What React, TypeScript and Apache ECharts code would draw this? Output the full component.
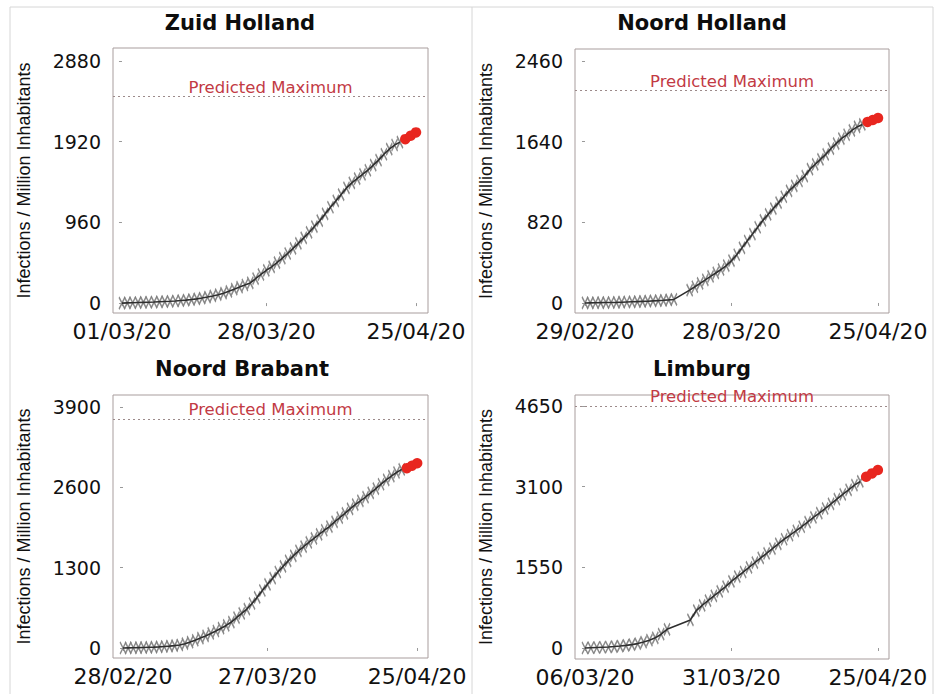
import React, { useEffect, useRef } from "react";
import * as echarts from "echarts";

// ---------- DATA ----------
const regionNames = ["Zuid Holland", "Noord Holland", "Noord Brabant", "Limburg"];

const zhTicks = ["01/03/20", "28/03/20", "25/04/20"];
const nhTicks = ["29/02/20", "28/03/20", "25/04/20"];
const nbTicks = ["28/02/20", "27/03/20", "25/04/20"];
const liTicks = ["06/03/20", "31/03/20", "25/04/20"];

const zhYTicks = [0, 960, 1920, 2880];
const nhYTicks = [0, 820, 1640, 2460];
const nbYTicks = [0, 1300, 2600, 3900];
const liYTicks = [0, 1550, 3100, 4650];

const zhPredictedMax = 2455;
const nhPredictedMax = 2158;
const nbPredictedMax = 3705;
const liPredictedMax = 4645;

// daily observed infections / million, day 0 = first tick date (null = no report)
const zhObserved = [0, 2, 4, 6, 8, 10, 12, 15, 18, 21, 25, 30, 35, 42, 50, 60, 72, 85, 100, 118, 140, 165, 190, 215, 240, 290, 340, 390, 430, 480, 535, 590, 650, 710, 775, 840, 910, 980, 1060, 1140, 1215, 1290, 1370, 1430, 1480, 1530, 1580, 1640, 1700, 1770, 1830, 1880, 1915];
const nhObserved = [0, 1, 2, 3, 4, 5, 6, 8, 10, 12, 14, 16, 18, 21, 24, 27, 31, 36, null, null, 130, 165, 200, 235, 270, 305, 340, 380, 430, 490, 560, 630, 700, 770, 840, 900, 960, 1020, 1080, 1140, 1190, 1240, 1290, 1360, 1410, 1460, 1510, 1570, 1620, 1670, 1710, 1755, 1790, 1815];
const nbObserved = [0, 2, 4, 6, 8, 11, 14, 18, 24, 30, 38, 48, 70, 95, 125, 160, 195, 235, 275, 320, 365, 420, 490, 560, 630, 720, 820, 930, 1030, 1130, 1230, 1320, 1410, 1490, 1570, 1640, 1710, 1775, 1840, 1905, 1965, 2040, 2110, 2180, 2250, 2320, 2380, 2440, 2510, 2580, 2650, 2720, 2780, 2840, 2890];
const liObserved = [0, 5, 10, 15, 20, 28, 38, 50, 65, 85, 115, 150, 195, 265, 360, null, null, null, 540, 720, 820, 910, 1000, 1090, 1180, 1280, 1370, 1460, 1550, 1640, 1730, 1820, 1910, 2000, 2090, 2170, 2250, 2330, 2420, 2510, 2590, 2680, 2770, 2860, 2950, 3040, 3130, 3200];

// predicted values for the last days (ending at the last tick date)
const zhPredicted = [1950, 1990, 2030];
const nhPredicted = [1840, 1860, 1880];
const nbPredicted = [2910, 2950, 2990];
const liPredicted = [3290, 3355, 3420];

// ---------- LAYOUT ----------
const layouts = [
  { left: 113, top: 48, width: 315, height: 265, xPad: [-1.68, 2.25], yRange: [-118, 3034], titleX: 240, titleY: 22.5 },
  { left: 575, top: 49, width: 314, height: 264, xPad: [-1.91, 2.1], yRange: [-102, 2582], titleX: 702, titleY: 22.5 },
  { left: 113, top: 395, width: 315, height: 263, xPad: [-1.94, 2.1], yRange: [-162, 4094], titleX: 242, titleY: 368.5 },
  { left: 575, top: 395, width: 314, height: 264, xPad: [-1.71, 1.9], yRange: [-211, 4861], titleX: 702, titleY: 368.5 },
];

function parseDate(s: string): number {
  const [d, m, y] = s.split("/").map(Number);
  return Date.UTC(2000 + y, m - 1, d);
}
function dayOffsets(ticks: string[]): number[] {
  const t0 = parseDate(ticks[0]);
  return ticks.map((t) => Math.round((parseDate(t) - t0) / 86400000));
}

const FONT = "DejaVu Sans";
const CROSS = "path://M0,0L6,12M6,0L0,12";

export default function App() {
  const ref = useRef<HTMLDivElement>(null);
  useEffect(() => {
    document.body.style.margin = "0";
    if (!ref.current) return;
    const chart = echarts.init(ref.current, null, { renderer: "svg" });

    const regions = [
      { ticks: zhTicks, yTicks: zhYTicks, max: zhPredictedMax, obs: zhObserved, pred: zhPredicted },
      { ticks: nhTicks, yTicks: nhYTicks, max: nhPredictedMax, obs: nhObserved, pred: nhPredicted },
      { ticks: nbTicks, yTicks: nbYTicks, max: nbPredictedMax, obs: nbObserved, pred: nbPredicted },
      { ticks: liTicks, yTicks: liYTicks, max: liPredictedMax, obs: liObserved, pred: liPredicted },
    ];

    const grids: any[] = [];
    const xAxes: any[] = [];
    const yAxes: any[] = [];
    const series: any[] = [];
    const graphics: any[] = [];

    regions.forEach((r, i) => {
      const L = layouts[i];
      const tickDays = dayOffsets(r.ticks);
      const lastDay = tickDays[tickDays.length - 1];
      grids.push({
        left: L.left, top: L.top, width: L.width, height: L.height,
        show: true, borderColor: "#a89d9d", borderWidth: 1, backgroundColor: "transparent",
      });
      xAxes.push({
        type: "value", gridIndex: i,
        min: L.xPad[0], max: lastDay + L.xPad[1],
        axisLine: { show: false },
        splitLine: { show: false },
        axisTick: { show: true, customValues: tickDays, length: 3, lineStyle: { color: "#999" } },
        axisLabel: {
          customValues: tickDays,
          formatter: (v: number) => r.ticks[tickDays.indexOf(Math.round(v))] ?? "",
          fontFamily: FONT, fontSize: 22, color: "#111", margin: 7,
        },
      });
      yAxes.push({
        type: "value", gridIndex: i,
        min: L.yRange[0], max: L.yRange[1],
        name: "Infections / Million Inhabitants",
        nameLocation: "middle", nameGap: 80,
        nameTextStyle: { fontFamily: "Liberation Sans", fontSize: 18, color: "#111" },
        axisLine: { show: false },
        splitLine: { show: false },
        axisTick: { show: true, customValues: r.yTicks, length: 3, lineStyle: { color: "#999" } },
        axisLabel: {
          customValues: r.yTicks,
          formatter: (v: number) => String(Math.round(v)),
          fontFamily: FONT, fontSize: 19, color: "#111", margin: 12,
        },
      });

      const obsPts: number[][] = [];
      r.obs.forEach((v, d) => { if (v != null) obsPts.push([d, v as number]); });
      const predStart = lastDay - r.pred.length + 1;
      const predPts = r.pred.map((v, k) => [predStart + k, v]);

      series.push({
        type: "scatter", xAxisIndex: i, yAxisIndex: i,
        data: obsPts, symbol: CROSS, symbolSize: [6, 12],
        itemStyle: { color: "none", borderColor: "#7d7d7d", borderWidth: 1.7, opacity: 0.9 },
        silent: true,
        markLine: {
          silent: true, symbol: "none",
          lineStyle: { type: [2, 3], color: "#9c8a8a", width: 1 },
          label: {
            show: true, position: "insideMiddleTop", formatter: "Predicted Maximum",
            fontFamily: FONT, fontSize: 16.5, color: "#c23a44", distance: 1,
          },
          data: [{ yAxis: r.max }],
        },
      });
      series.push({
        type: "line", xAxisIndex: i, yAxisIndex: i,
        data: obsPts, showSymbol: false, symbol: "none",
        lineStyle: { color: "#2e2e2e", width: 1.6 },
        silent: true,
      });
      series.push({
        type: "scatter", xAxisIndex: i, yAxisIndex: i,
        data: predPts, symbol: "circle", symbolSize: 10.5,
        itemStyle: { color: "#e8261f", opacity: 1 },
        silent: true,
      });

      graphics.push({
        type: "text", x: L.titleX, y: L.titleY,
        style: {
          text: regionNames[i], fontFamily: FONT, fontWeight: "bold", fontSize: 21,
          fill: "#0d0d0d", align: "center", verticalAlign: "middle",
        },
      });
    });

    graphics.push({
      type: "rect", shape: { x: 10, y: 7, width: 923, height: 700 },
      style: { fill: "none", stroke: "#d6d6d6", lineWidth: 1 }, silent: true,
    });
    graphics.push({
      type: "line", shape: { x1: 472, y1: 7, x2: 472, y2: 694 },
      style: { stroke: "#d6d6d6", lineWidth: 1 }, silent: true,
    });

    chart.setOption({
      animation: false,
      backgroundColor: "#ffffff",
      grid: grids,
      xAxis: xAxes,
      yAxis: yAxes,
      series,
      graphic: graphics,
    });
    return () => chart.dispose();
  }, []);
  return <div ref={ref} style={{ width: 942, height: 694 }} />;
}
